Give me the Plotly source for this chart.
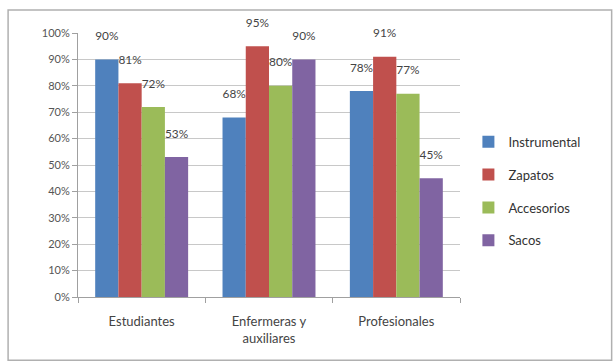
import plotly.graph_objects as go

categories = ["Estudiantes", "Enfermeras y<br>auxiliares", "Profesionales"]
series_names = ["Instrumental", "Zapatos", "Accesorios", "Sacos"]
instrumental = [0.90, 0.68, 0.78]
zapatos = [0.81, 0.95, 0.91]
accesorios = [0.72, 0.80, 0.77]
sacos = [0.53, 0.90, 0.45]
colors = ["#4F81BD", "#C0504D", "#9BBB59", "#8064A2"]

fig = go.Figure()
for i, (name, vals) in enumerate(zip(series_names, [instrumental, zapatos, accesorios, sacos])):
    fig.add_trace(go.Bar(
        x=categories, y=vals, name=name,
        marker=dict(color=colors[i], line=dict(width=0)),
        text=vals,
        texttemplate="%{y:.0%}<br><span style='font-size:4px'> </span>",
        textposition="outside",
        textfont=dict(size=13, color="#444"),
        cliponaxis=False,
        legendgroup=name,
    ))

fig.update_layout(
    width=615, height=362,
    margin=dict(l=78, r=155, t=33, b=65),
    barmode="group", bargap=0.27, bargroupgap=0,
    paper_bgcolor="white", plot_bgcolor="white",
    font=dict(family="Lato, Open Sans, sans-serif", size=12, color="#444"),
    legend=dict(x=1.022, y=0.645, xanchor="left", yanchor="top",
                font=dict(size=13, color="#333"), tracegroupgap=13,
                itemwidth=30),
    shapes=[dict(type="rect", xref="paper", yref="paper",
                 x0=-0.183, x1=1.397, y0=-0.24, y1=1.087,
                 line=dict(color="#B0B0B0", width=1.5), layer="below")],
)
fig.update_yaxes(range=[0, 1], dtick=0.1, tickformat=".0%",
                 showgrid=True, gridcolor="#C8C8C8", gridwidth=1,
                 showline=True, linecolor="#A0A0A0",
                 ticks="outside", ticklen=5, tickcolor="#A0A0A0",
                 tickfont=dict(size=11, color="#555"), zeroline=False)
fig.update_xaxes(showline=True, linecolor="#A0A0A0",
                 ticks="outside", tickson="boundaries", ticklen=5, tickcolor="#A0A0A0",
                 ticklabelstandoff=12,
                 tickfont=dict(size=13, color="#444"))

fig.write_html("out.html")
